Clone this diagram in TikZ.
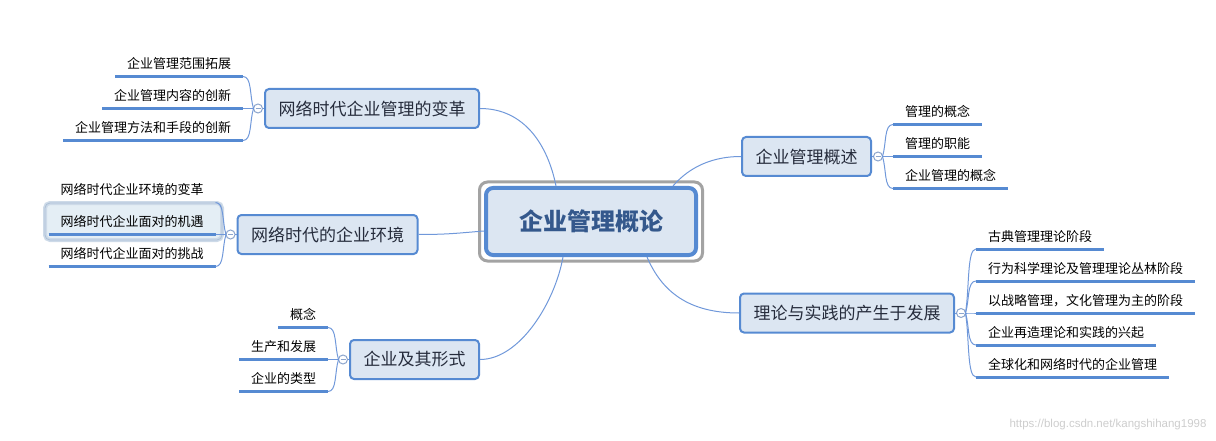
\documentclass[tikz,border=0pt]{standalone}
\usepackage{fontspec}
\setmainfont{Noto Sans CJK SC}
\newfontfamily\wmfont{Liberation Sans}
\usetikzlibrary{positioning}
\definecolor{boxfill}{RGB}{220,230,242}
\definecolor{boxline}{RGB}{86,138,210}
\definecolor{connc}{RGB}{112,152,218}
\definecolor{knobc}{RGB}{140,165,205}
\definecolor{framec}{RGB}{163,163,163}
\definecolor{coretext}{RGB}{52,88,140}
\definecolor{topictext}{RGB}{38,44,60}
\definecolor{hlfill}{RGB}{228,238,245}
\definecolor{hlline}{RGB}{205,218,232}
\definecolor{hledge}{RGB}{172,192,215}
\tikzset{mainbox/.style={draw=boxline,fill=boxfill,line width=4pt,rounded corners=7pt,minimum width=210pt,minimum height=67pt,font=\fontsize{24}{28}\selectfont\bfseries,text=coretext},
	 topic/.style={draw=boxline,fill=boxfill,line width=2pt,rounded corners=4pt,inner xsep=13.5pt,minimum height=39pt,font=\fontsize{17}{20}\selectfont,text=topictext},
	 knob/.style={circle,draw=knobc,fill=white,line width=1pt,minimum size=9pt,inner sep=0pt,outer sep=0pt,
	   path picture={\draw[knobc] ([xshift=-2.5pt]path picture bounding box.center) -- ([xshift=2.5pt]path picture bounding box.center);}},
	 leaf/.style={font=\fontsize{13}{15}\selectfont,inner xsep=12pt,inner ysep=5pt,text height=10pt,text depth=3pt,outer sep=0pt},
	 uline/.style={draw=boxline,line width=3pt},
	 conn/.style={draw=connc,line width=1pt},
	 node distance = 1.5pt
	 }

\begin{document}
\begin{tikzpicture}[x=1pt,y=-1pt] % mind map, pixel coordinates
	\useasboundingbox (0,0) rectangle (1216,441);
	\node[mainbox] (core) at (591,221.5) {企业管理概论};
	\draw[framec,line width=3pt,rounded corners=8pt] ([shift={(-4.5,-4)}]core.north west) rectangle ([shift={(4.5,4)}]core.south east);
	\node[topic] (t1) at (372,108.5) {网络时代企业管理的变革};
	\node[topic] (t2) at (327.5,234.5) {网络时代的企业环境};
	\node[topic] (t3) at (414.5,359.5) {企业及其形式};
	\node[topic] (t4) at (806.5,156.5) {企业管理概述};
	\node[topic] (t5) at (847,313) {理论与实践的产生于发展};
	\node[knob] (k1) [left=of t1] {}; \node[knob] (k2) [left=of t2] {};
	\node[knob] (k3) [left=of t3] {};
	\node[knob] (k4) [right=of t4] {}; \node[knob] (k5) [right=of t5] {};
	\draw[conn] (k1) -- (t1); \draw[conn] (k2) -- (t2); \draw[conn] (k3) -- (t3);
	\draw[conn] (k4) -- (t4); \draw[conn] (k5) -- (t5);
	% left side
	\foreach \txt/\dy [count=\i] in {企业管理范围拓展/32,企业管理内容的创新/0,企业管理方法和手段的创新/-32}{
	  \node[leaf,anchor=south east] (a\i) at ([xshift=-10.5pt,yshift=\dy pt]k1.west) {\txt};
	  \draw[uline] (a\i.south west) -- (a\i.south east);
	  \draw[conn] (k1.west) .. controls +(-4,{-0.4*\dy}) and +(9,0) .. (a\i.south east);
	}
	\draw[hlline,line width=4pt,fill=hlfill,rounded corners=5pt] (45,203) rectangle (222,240);
	\draw[hledge,line width=0.8pt,rounded corners=5pt] (45,203) rectangle (222,240);
	\node[leaf,anchor=south east] (e1) at ([xshift=-10.5pt,yshift=32pt]k2.west) {网络时代企业环境的变革};
	\node[leaf,anchor=south east] (e2) at ([xshift=-10.5pt]k2.west) {网络时代企业面对的机遇};
	\node[leaf,anchor=south east] (e3) at ([xshift=-10.5pt,yshift=-32pt]k2.west) {网络时代企业面对的挑战};
	\draw[uline] (e2.south west) -- (e2.south east); \draw[uline] (e3.south west) -- (e3.south east);
	\draw[conn] (k2.west) .. controls +(-4,-12.8) and +(9,0) .. (e1.south east);
	\draw[conn] (k2.west) -- (e2.south east);
	\draw[conn] (k2.west) .. controls +(-4,12.8) and +(9,0) .. (e3.south east);
	\foreach \txt/\dy [count=\i] in {概念/32,生产和发展/0,企业的类型/-32}{
	  \node[leaf,anchor=south east] (c\i) at ([xshift=-10.5pt,yshift=\dy pt]k3.west) {\txt};
	  \draw[uline] (c\i.south west) -- (c\i.south east);
	  \draw[conn] (k3.west) .. controls +(-4,{-0.4*\dy}) and +(9,0) .. (c\i.south east);
	}
	% right side
	\foreach \txt/\dy [count=\i] in {管理的概念/32,管理的职能/0,企业管理的概念/-32}{
	  \node[leaf,anchor=south west] (b\i) at ([xshift=10.5pt,yshift=\dy pt]k4.east) {\txt};
	  \draw[uline] (b\i.south west) -- (b\i.south east);
	  \draw[conn] (k4.east) .. controls +(4,{-0.4*\dy}) and +(-9,0) .. (b\i.south west);
	}
	\foreach \txt/\dy [count=\i] in {古典管理理论阶段/64,行为科学理论及管理理论丛林阶段/32,以战略管理，文化管理为主的阶段/0,企业再造理论和实践的兴起/-32,全球化和网络时代的企业管理/-64}{
	  \node[leaf,anchor=south west] (d\i) at ([xshift=10.5pt,yshift=\dy pt]k5.east) {\txt};
	  \draw[uline] (d\i.south west) -- (d\i.south east);
	  \draw[conn] (k5.east) .. controls +(4,{-0.4*\dy}) and +(-9,0) .. (d\i.south west);
	}
	% branches to the centre
	\draw[conn] (t1.east) .. controls +(45,0) and +(-8,-40) .. ([xshift=-35pt]core.north);
	\draw[conn] (t2.east) .. controls +(30,0) and +(-25,2) .. ([yshift=-9.5pt]core.west);
	\draw[conn] ([xshift=-28pt]core.south) .. controls +(-8,45) and +(40,0) .. (t3.east);
	\draw[conn] (t4.west) .. controls +(-35,0) and +(12,-14) .. ([xshift=-25pt]core.north east);
	\draw[conn] ([xshift=56pt]core.south) .. controls +(15,35) and +(-50,0) .. (t5.west);
	\node[anchor=east,text={rgb,255:red,205;green,205;blue,205},font=\wmfont\fontsize{11.5}{13}\selectfont] (mark) at (1210,425) {https://blog.csdn.net/kangshihang1998};
\end{tikzpicture}
\end{document}
